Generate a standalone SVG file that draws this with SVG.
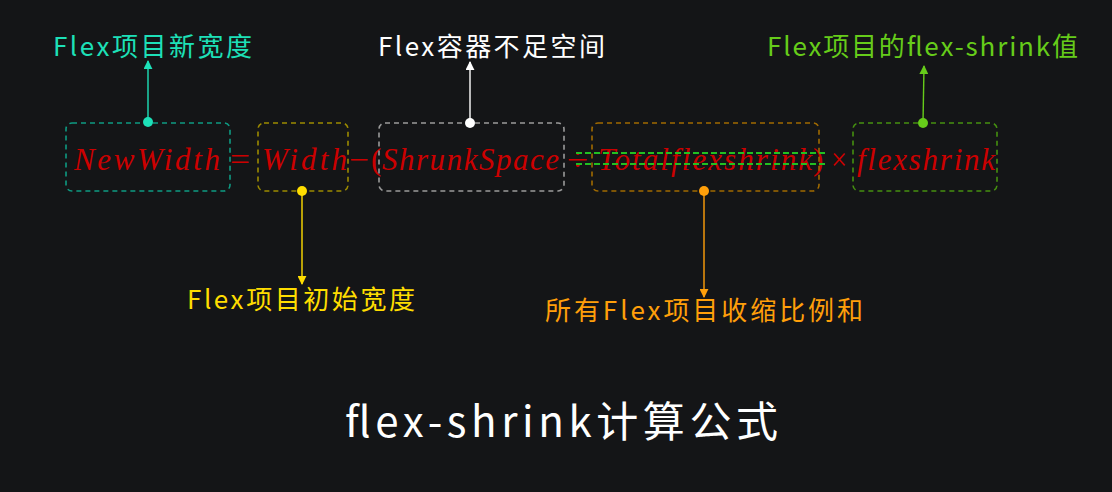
<svg xmlns="http://www.w3.org/2000/svg" width="1112" height="492" viewBox="0 0 1112 492">
<defs>
<style>
.lbl{font-family:"Noto Sans CJK SC","Noto Sans",sans-serif;font-size:26px}
.math{font-family:"Liberation Serif","DejaVu Serif",serif;font-style:italic;font-size:31px;fill:#cc0000}
.op{font-family:"Liberation Serif","DejaVu Serif",serif;font-size:31px;fill:#cc0000}
.box{fill:none;stroke-width:1.6;stroke-dasharray:5 4}
.con{stroke-width:1.4;fill:none}
</style>
<marker id="aT" viewBox="0 0 10 10" refX="9" refY="5" markerWidth="9" markerHeight="9" markerUnits="userSpaceOnUse" orient="auto"><path d="M0,0 L10,5 L0,10 z" fill="#1de0b8"/></marker>
<marker id="aW" viewBox="0 0 10 10" refX="9" refY="5" markerWidth="9" markerHeight="9" markerUnits="userSpaceOnUse" orient="auto"><path d="M0,0 L10,5 L0,10 z" fill="#ffffff"/></marker>
<marker id="aG" viewBox="0 0 10 10" refX="9" refY="5" markerWidth="9" markerHeight="9" markerUnits="userSpaceOnUse" orient="auto"><path d="M0,0 L10,5 L0,10 z" fill="#66cc1a"/></marker>
<marker id="aY" viewBox="0 0 10 10" refX="9" refY="5" markerWidth="9" markerHeight="9" markerUnits="userSpaceOnUse" orient="auto"><path d="M0,0 L10,5 L0,10 z" fill="#ffdd00"/></marker>
<marker id="aO" viewBox="0 0 10 10" refX="9" refY="5" markerWidth="9" markerHeight="9" markerUnits="userSpaceOnUse" orient="auto"><path d="M0,0 L10,5 L0,10 z" fill="#ff9f0a"/></marker>
</defs>
<rect width="1112" height="492" fill="#141517"/>

<g id="formula">
<text class="math" x="74" y="170" textLength="146" lengthAdjust="spacing">NewWidth</text>
<text class="op" x="230" y="170" textLength="20" lengthAdjust="spacingAndGlyphs">=</text>
<text class="math" x="262" y="170" textLength="85" lengthAdjust="spacing">Width</text>
<text class="op" x="349" y="170" textLength="20" lengthAdjust="spacingAndGlyphs">−</text>
<text class="op" x="371" y="170">(</text>
<text class="math" x="382" y="170" textLength="177" lengthAdjust="spacing">ShrunkSpace</text>
<text class="op" x="567" y="170" textLength="21" lengthAdjust="spacingAndGlyphs">÷</text>
<text class="math" x="598" y="170" textLength="214" lengthAdjust="spacing">Totalflexshrink</text>
<text class="op" x="813" y="170">)</text>
<text class="op" x="831" y="170" textLength="16" lengthAdjust="spacingAndGlyphs">×</text>
<text class="math" x="857" y="170" textLength="138" lengthAdjust="spacing">flexshrink</text>
<line x1="576" y1="153" x2="826" y2="153" stroke="#22c022" stroke-width="2.2" stroke-dasharray="6 3"/>
<line x1="576" y1="164" x2="826" y2="164" stroke="#22c022" stroke-width="2.2" stroke-dasharray="6 3"/>
</g>

<g id="node-newwidth">
<rect class="box" x="66" y="123" width="164" height="68" rx="6" stroke="#0e9a82"/>
<text class="lbl" x="53" y="56" fill="#1de0b8" textLength="199" lengthAdjust="spacing">Flex项目新宽度</text>
</g>
<g id="node-width">
<rect class="box" x="258" y="123" width="90" height="68" rx="6" stroke="#9c8a00"/>
<text class="lbl" x="187" y="309" fill="#ffdd00" textLength="228" lengthAdjust="spacing">Flex项目初始宽度</text>
</g>
<g id="node-space">
<rect class="box" x="379" y="123" width="185" height="68" rx="6" stroke="#9a9a9a"/>
<text class="lbl" x="378" y="56" fill="#ffffff" textLength="227" lengthAdjust="spacing">Flex容器不足空间</text>
</g>
<g id="node-total">
<rect class="box" x="592" y="123" width="227" height="68" rx="6" stroke="#a06a00"/>
<text class="lbl" x="545" y="320" fill="#ff9f0a" textLength="318" lengthAdjust="spacing">所有Flex项目收缩比例和</text>
</g>
<g id="node-shrink">
<rect class="box" x="853" y="123" width="144" height="68" rx="6" stroke="#459010"/>
<text class="lbl" x="767" y="56" fill="#66cc1a" textLength="311" lengthAdjust="spacing">Flex项目的flex-shrink值</text>
</g>

<g id="connectors">
<line class="con" x1="148" y1="122" x2="148" y2="61" stroke="#1de0b8" marker-end="url(#aT)"/>
<circle cx="148" cy="122" r="5" fill="#1de0b8"/>
<line class="con" x1="470" y1="123" x2="470" y2="62" stroke="#ffffff" marker-end="url(#aW)"/>
<circle cx="470" cy="123" r="5" fill="#ffffff"/>
<line class="con" x1="923" y1="123" x2="924" y2="66" stroke="#66cc1a" marker-end="url(#aG)"/>
<circle cx="923" cy="123" r="5" fill="#66cc1a"/>
<line class="con" x1="302" y1="191" x2="302" y2="284" stroke="#ffdd00" marker-end="url(#aY)"/>
<circle cx="302" cy="191" r="5" fill="#ffdd00"/>
<line class="con" x1="704" y1="191" x2="704" y2="297" stroke="#ff9f0a" marker-end="url(#aO)"/>
<circle cx="704" cy="191" r="5" fill="#ff9f0a"/>
</g>

<g id="title">
<text class="lbl" x="345" y="437" fill="#ffffff" style="font-size:42px" textLength="433" lengthAdjust="spacing">flex-shrink计算公式</text>
</g>
</svg>
